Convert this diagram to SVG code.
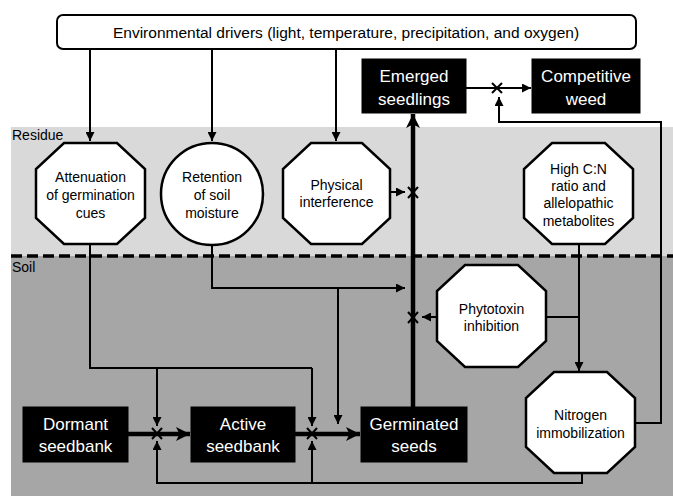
<svg xmlns="http://www.w3.org/2000/svg" width="673" height="496" viewBox="0 0 673 496">
<style>
text{font-family:"Liberation Sans",Arial,sans-serif;text-anchor:middle}
.t{font-size:14px;fill:#000}
.w{font-size:17px;fill:#fff}
.oct{fill:#fff;stroke:#000;stroke-width:2.5}
.box{fill:#000;stroke:#000}
.c{fill:none;stroke:#000;stroke-width:2}
.k{fill:none;stroke:#000;stroke-width:4.5}
.x{stroke:#000;stroke-width:2;fill:none}
</style>
<defs>
<marker id="a" markerUnits="userSpaceOnUse" viewBox="0 0 10 10" refX="10" refY="5" markerWidth="10" markerHeight="9" orient="auto"><path d="M0,0 L10,5 L0,10 z" fill="#000"/></marker>
<marker id="b" markerUnits="userSpaceOnUse" viewBox="0 0 12 12" refX="12" refY="6" markerWidth="15" markerHeight="14" orient="auto"><path d="M0,0 L12,6 L0,12 L3,6 z" fill="#000"/></marker>
</defs>
<rect x="11" y="127" width="662" height="129" fill="#d9d9d9"/>
<rect x="11" y="256" width="662" height="240" fill="#a6a6a6"/>
<line x1="11" y1="256" x2="673" y2="256" stroke="#000" stroke-width="3.5" stroke-dasharray="11,5"/>
<text x="12" y="140" class="t" style="text-anchor:start">Residue</text>
<text x="12" y="272" class="t" style="text-anchor:start">Soil</text>

<g id="connectors">
<path class="c" d="M90,49 V141" marker-end="url(#a)"/>
<path class="c" d="M212,49 V141" marker-end="url(#a)"/>
<path class="c" d="M336,49 V141" marker-end="url(#a)"/>
<path class="c" d="M90,244 V368 H312"/>
<path class="c" d="M157,368 V426" marker-end="url(#a)"/>
<path class="c" d="M312,368 V426" marker-end="url(#a)"/>
<path class="c" d="M212,245 V288 H405" marker-end="url(#a)"/>
<path class="c" d="M338,288 V424" marker-end="url(#a)"/>
<path class="c" d="M390,192 H405" marker-end="url(#a)"/>
<path class="k" d="M413,407 V114" marker-end="url(#b)"/>
<path class="c" d="M437,317 H422" marker-end="url(#a)"/>
<path class="c" d="M546,317 H579"/>
<path class="c" d="M579,244 V371" marker-end="url(#a)"/>
<path class="c" d="M635,423 H661 V122 H499 V97" marker-end="url(#a)"/>
<path class="c" d="M466,88 H531" marker-end="url(#a)"/>
<path class="c" d="M582,473 V483 H157 V441" marker-end="url(#a)"/>
<path class="c" d="M312,483 V441" marker-end="url(#a)"/>
<path class="k" d="M128,434 H190" marker-end="url(#b)"/>
<path class="k" d="M295,434 H360" marker-end="url(#b)"/>
<path class="x" d="M152,428 L162,439 M162,428 L152,439"/>
<path class="x" d="M307,428 L317,439 M317,428 L307,439"/>
<path class="x" d="M408,187 L418,198 M418,187 L408,198"/>
<path class="x" d="M408,312 L418,323 M418,312 L408,323"/>
<path class="x" d="M492,83 L502,93 M502,83 L492,93"/>
</g>

<g id="env">
<rect x="57" y="15" width="579" height="34" rx="6" fill="#fff" stroke="#000" stroke-width="2"/>
<text x="346" y="38" style="font-size:15.5px">Environmental drivers (light, temperature, precipitation, and oxygen)</text>
</g>

<g id="attenuation">
<path class="oct" d="M64,143 H117 L145,169 V218 L117,244 H64 L36,218 V169 Z"/>
<text x="90.5" y="182" class="t">Attenuation</text>
<text x="90.5" y="200" class="t">of germination</text>
<text x="90.5" y="218" class="t">cues</text>
</g>

<g id="retention">
<circle class="oct" cx="212" cy="194" r="51"/>
<text x="212" y="182" class="t">Retention</text>
<text x="212" y="200" class="t">of soil</text>
<text x="212" y="218" class="t">moisture</text>
</g>

<g id="physical">
<path class="oct" d="M311,143 H362 L390,169 V218 L362,244 H311 L283,218 V169 Z"/>
<text x="336.5" y="190" class="t">Physical</text>
<text x="336.5" y="207" class="t">interference</text>
</g>

<g id="highcn">
<path class="oct" d="M552,143 H605 L633,169 V218 L605,244 H552 L524,218 V169 Z"/>
<text x="578.5" y="174" class="t">High C:N</text>
<text x="578.5" y="191" class="t">ratio and</text>
<text x="578.5" y="208" class="t">allelopathic</text>
<text x="578.5" y="226" class="t">metabolites</text>
</g>

<g id="phytotoxin">
<path class="oct" d="M465,265 H518 L546,291 V341 L518,367 H465 L437,341 V291 Z"/>
<text x="491.5" y="314" class="t">Phytotoxin</text>
<text x="491.5" y="331" class="t">inhibition</text>
</g>

<g id="nitrogen">
<path class="oct" d="M554,372 H607 L635,398 V447 L607,473 H554 L526,447 V398 Z"/>
<text x="580.5" y="420" class="t">Nitrogen</text>
<text x="580.5" y="438" class="t">immobilization</text>
</g>

<g id="emerged">
<rect class="box" x="362" y="59" width="104" height="54"/>
<text x="414" y="82" class="w">Emerged</text>
<text x="414" y="105" class="w">seedlings</text>
</g>

<g id="competitive">
<rect class="box" x="532" y="59" width="108" height="54"/>
<text x="586" y="82" class="w">Competitive</text>
<text x="586" y="105" class="w">weed</text>
</g>

<g id="dormant">
<rect class="box" x="23" y="407" width="105" height="55"/>
<text x="75.5" y="430" class="w">Dormant</text>
<text x="75.5" y="452" class="w">seedbank</text>
</g>

<g id="active">
<rect class="box" x="191" y="407" width="104" height="55"/>
<text x="243" y="430" class="w">Active</text>
<text x="243" y="452" class="w">seedbank</text>
</g>

<g id="germinated">
<rect class="box" x="361" y="407" width="106" height="55"/>
<text x="414" y="430" class="w">Germinated</text>
<text x="414" y="452" class="w">seeds</text>
</g>
</svg>
